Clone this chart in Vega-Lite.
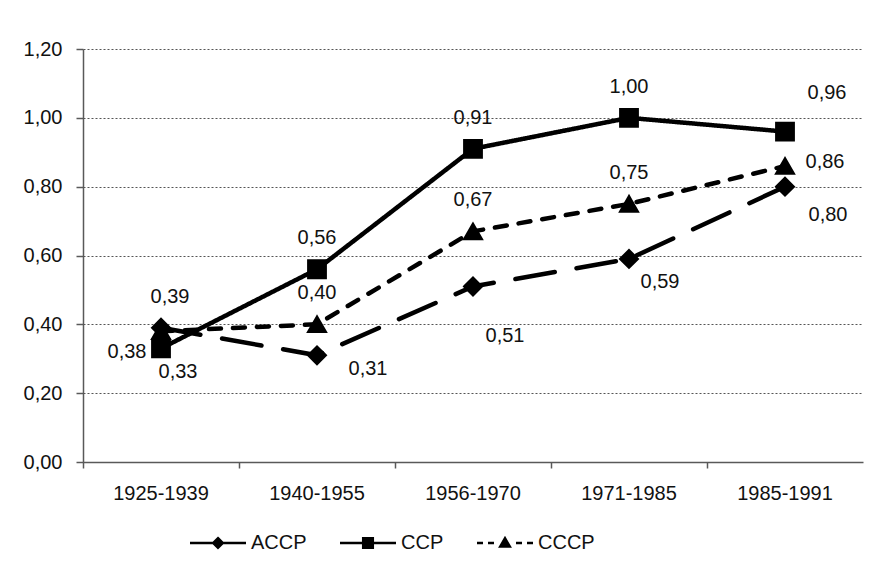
{
  "$schema": "https://vega.github.io/schema/vega-lite/v6.json",
  "autosize": {"type": "none"},
  "width": 780,
  "height": 413,
  "padding": {"left": 83, "top": 49, "right": 15, "bottom": 124},
  "background": "white",
  "config": {
    "locale": {"number": {"decimal": ",", "thousands": ".", "grouping": [3], "currency": ["", " €"]}},
    "view": {"stroke": null},
    "font": "Liberation Sans",
    "axis": {"labelFont": "Liberation Sans", "labelFontSize": 20, "labelColor": "#111", "domainColor": "#595959", "domainWidth": 1.5, "tickColor": "#595959", "tickWidth": 1.5, "title": null}
  },
  "data": {
    "values": [
      {"series": "ACCP", "period": "1925-1939", "value": 0.39},
      {"series": "ACCP", "period": "1940-1955", "value": 0.31},
      {"series": "ACCP", "period": "1956-1970", "value": 0.51},
      {"series": "ACCP", "period": "1971-1985", "value": 0.59},
      {"series": "ACCP", "period": "1985-1991", "value": 0.80},
      {"series": "CCP", "period": "1925-1939", "value": 0.33},
      {"series": "CCP", "period": "1940-1955", "value": 0.56},
      {"series": "CCP", "period": "1956-1970", "value": 0.91},
      {"series": "CCP", "period": "1971-1985", "value": 1.00},
      {"series": "CCP", "period": "1985-1991", "value": 0.96},
      {"series": "CCCP", "period": "1925-1939", "value": 0.38},
      {"series": "CCCP", "period": "1940-1955", "value": 0.40},
      {"series": "CCCP", "period": "1956-1970", "value": 0.67},
      {"series": "CCCP", "period": "1971-1985", "value": 0.75},
      {"series": "CCCP", "period": "1985-1991", "value": 0.86}
    ]
  },
  "encoding": {
    "x": {
      "field": "period", "type": "nominal", "bandPosition": 0.5,
      "scale": {"type": "band", "paddingInner": 0, "paddingOuter": 0},
      "axis": {"labelAngle": 0, "tickSize": 6, "labelPadding": 15, "bandPosition": 0, "grid": false}
    },
    "y": {
      "field": "value", "type": "quantitative",
      "scale": {"domain": [0, 1.2]},
      "axis": {"values": [0, 0.2, 0.4, 0.6, 0.8, 1.0, 1.2], "format": ".2f", "tickSize": 7, "labelPadding": 14, "grid": true, "gridColor": "#555", "gridDash": [2, 2], "gridWidth": 1}
    }
  },
  "layer": [
    {
      "mark": {"type": "line", "color": "black", "strokeWidth": 4.5, "strokeCap": "round"},
      "encoding": {
        "detail": {"field": "series"},
        "strokeDash": {"field": "series", "type": "nominal", "legend": null,
          "scale": {"range": [[40, 22], [12, 12], [1, 0]]}}
      }
    },
    {
      "mark": {"type": "point", "filled": true, "stroke": "black", "strokeWidth": 2.5, "opacity": 1, "size": 300},
      "encoding": {
        "shape": {"field": "series", "type": "nominal", "legend": null,
          "scale": {"range": ["diamond", "triangle-up", "square"]}},
        "color": {"field": "series", "type": "nominal",
          "scale": {"domain": ["ACCP", "CCP", "CCCP"], "range": ["black", "black", "black"]},
          "legend": {
            "title": null, "orient": "none", "direction": "horizontal", "legendX": 105, "legendY": 484,
            "labelFont": "Liberation Sans", "labelFontSize": 20, "labelColor": "#111",
            "symbolSize": 64, "symbolOffset": 20, "labelOffset": 23, "columnPadding": 28,
            "symbolFillColor": "black", "symbolStrokeColor": "black", "symbolStrokeWidth": 2.5, "symbolOpacity": 1,
            "symbolType": {"expr": "datum.value === 'ACCP' ? 'M-7,0H-1.2M1.2,0H7M0,-1.2L1.2,0L0,1.2L-1.2,0Z' : datum.value === 'CCP' ? 'M-7,0H-1.2M1.2,0H7M-1.2,-1.2H1.2V1.2H-1.2Z' : 'M-7,0H-5.5M-4.25,0H-2.75M2.75,0H4.25M5.5,0H7M-1.2,0.9L0,-1.2L1.2,0.9Z'"}
          }
        }
      }
    },
    {
      "transform": [{"filter": "datum.series !== 'ACCP' && datum.period !== '1925-1939' && datum.period !== '1985-1991'"}],
      "mark": {"type": "text", "font": "Liberation Sans", "fontSize": 20, "color": "#111", "dx": 0, "dy": -31},
      "encoding": {"text": {"field": "value", "type": "quantitative", "format": ".2f"}}
    },
    {
      "transform": [{"filter": "datum.series === 'ACCP' && datum.period === '1925-1939'"}],
      "mark": {"type": "text", "font": "Liberation Sans", "fontSize": 20, "color": "#111", "dx": 9, "dy": -31},
      "encoding": {"text": {"field": "value", "type": "quantitative", "format": ".2f"}}
    },
    {
      "transform": [{"filter": "datum.series === 'CCP' && datum.period === '1925-1939'"}],
      "mark": {"type": "text", "font": "Liberation Sans", "fontSize": 20, "color": "#111", "dx": 17, "dy": 24},
      "encoding": {"text": {"field": "value", "type": "quantitative", "format": ".2f"}}
    },
    {
      "transform": [{"filter": "datum.series === 'CCCP' && datum.period === '1925-1939'"}],
      "mark": {"type": "text", "font": "Liberation Sans", "fontSize": 20, "color": "#111", "dx": -34, "dy": 21},
      "encoding": {"text": {"field": "value", "type": "quantitative", "format": ".2f"}}
    },
    {
      "transform": [{"filter": "datum.series === 'ACCP' && datum.period === '1940-1955'"}],
      "mark": {"type": "text", "font": "Liberation Sans", "fontSize": 20, "color": "#111", "dx": 51, "dy": 14},
      "encoding": {"text": {"field": "value", "type": "quantitative", "format": ".2f"}}
    },
    {
      "transform": [{"filter": "datum.series === 'ACCP' && datum.period === '1956-1970'"}],
      "mark": {"type": "text", "font": "Liberation Sans", "fontSize": 20, "color": "#111", "dx": 32, "dy": 50},
      "encoding": {"text": {"field": "value", "type": "quantitative", "format": ".2f"}}
    },
    {
      "transform": [{"filter": "datum.series === 'ACCP' && datum.period === '1971-1985'"}],
      "mark": {"type": "text", "font": "Liberation Sans", "fontSize": 20, "color": "#111", "dx": 31, "dy": 23},
      "encoding": {"text": {"field": "value", "type": "quantitative", "format": ".2f"}}
    },
    {
      "transform": [{"filter": "datum.series === 'ACCP' && datum.period === '1985-1991'"}],
      "mark": {"type": "text", "font": "Liberation Sans", "fontSize": 20, "color": "#111", "dx": 43, "dy": 28},
      "encoding": {"text": {"field": "value", "type": "quantitative", "format": ".2f"}}
    },
    {
      "transform": [{"filter": "datum.series === 'CCP' && datum.period === '1985-1991'"}],
      "mark": {"type": "text", "font": "Liberation Sans", "fontSize": 20, "color": "#111", "dx": 42, "dy": -39},
      "encoding": {"text": {"field": "value", "type": "quantitative", "format": ".2f"}}
    },
    {
      "transform": [{"filter": "datum.series === 'CCCP' && datum.period === '1985-1991'"}],
      "mark": {"type": "text", "font": "Liberation Sans", "fontSize": 20, "color": "#111", "dx": 40, "dy": -4},
      "encoding": {"text": {"field": "value", "type": "quantitative", "format": ".2f"}}
    }
  ]
}
